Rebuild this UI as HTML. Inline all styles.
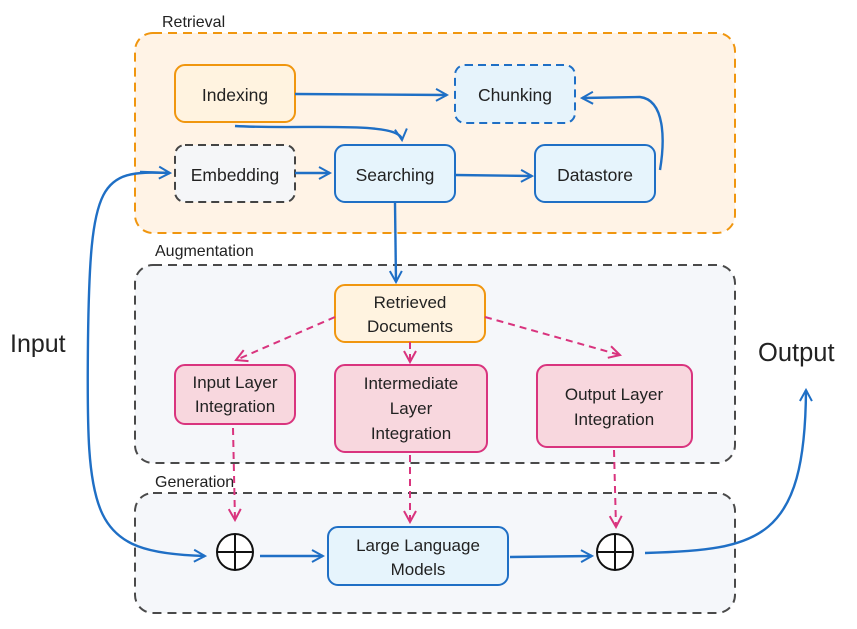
<!DOCTYPE html>
<html><head><meta charset="utf-8"><style>
body{margin:0;background:#fff}
svg text{font-family:"Liberation Sans",sans-serif;fill:#222}
</style></head><body>
<svg width="857" height="624" viewBox="0 0 857 624" xmlns="http://www.w3.org/2000/svg">
<defs>
<marker id="ab" markerWidth="14" markerHeight="14" refX="12" refY="7" orient="auto" markerUnits="userSpaceOnUse"><path d="M1,1 L12,7 L1,13" fill="none" stroke="#1f6fc5" stroke-width="2"/></marker>
<marker id="ap" markerWidth="14" markerHeight="14" refX="12" refY="7" orient="auto" markerUnits="userSpaceOnUse"><path d="M1,1 L12,7 L1,13" fill="none" stroke="#d9347e" stroke-width="2"/></marker>
</defs>
<rect x="135" y="33" width="600" height="200" rx="18" fill="#fff3e6" stroke="#f0960f" stroke-width="2" stroke-dasharray="9,6"/>
<text x="162" y="27" font-size="16">Retrieval</text>
<rect x="135" y="265" width="600" height="198" rx="18" fill="#f5f7fa" stroke="#4a4a4a" stroke-width="2" stroke-dasharray="9,6"/>
<text x="155" y="256" font-size="16">Augmentation</text>
<rect x="135" y="493" width="600" height="120" rx="18" fill="#f5f7fa" stroke="#4a4a4a" stroke-width="2" stroke-dasharray="9,6"/>
<text x="155" y="487" font-size="16">Generation</text>
<rect x="175" y="65" width="120" height="57" rx="10" fill="#fff3e0" stroke="#f0960f" stroke-width="2"/>
<text x="235" y="101" font-size="17.5" text-anchor="middle">Indexing</text>
<rect x="455" y="65" width="120" height="58" rx="10" fill="#e6f3fb" stroke="#1f6fc5" stroke-width="2" stroke-dasharray="8,5"/>
<text x="515" y="101" font-size="17.5" text-anchor="middle">Chunking</text>
<rect x="175" y="145" width="120" height="57" rx="10" fill="#f5f6f8" stroke="#444" stroke-width="2" stroke-dasharray="8,5"/>
<text x="235" y="181" font-size="17.5" text-anchor="middle">Embedding</text>
<rect x="335" y="145" width="120" height="57" rx="10" fill="#e6f4fc" stroke="#1f6fc5" stroke-width="2"/>
<text x="395" y="181" font-size="17.5" text-anchor="middle">Searching</text>
<rect x="535" y="145" width="120" height="57" rx="10" fill="#e6f4fc" stroke="#1f6fc5" stroke-width="2"/>
<text x="595" y="181" font-size="17.5" text-anchor="middle">Datastore</text>
<g stroke="#1f6fc5" stroke-width="2.4" fill="none">
<path d="M295,94 L447,95" marker-end="url(#ab)"/>
<path d="M235,126 C300,130 400,120 402,140" marker-end="url(#ab)"/>
<path d="M295,173 L330,173" marker-end="url(#ab)"/>
<path d="M455,175 L532,176" marker-end="url(#ab)"/>
<path d="M660,170 C665,140 665,100 640,97 L582,98" marker-end="url(#ab)"/>
<path d="M395,203 L396,282" marker-end="url(#ab)"/>
</g>
<rect x="335" y="285" width="150" height="57" rx="10" fill="#fff3e0" stroke="#f0960f" stroke-width="2"/>
<text x="410" y="308" font-size="17" text-anchor="middle">Retrieved</text>
<text x="410" y="332" font-size="17" text-anchor="middle">Documents</text>
<rect x="175" y="365" width="120" height="59" rx="10" fill="#f8d7de" stroke="#d9347e" stroke-width="2"/>
<text x="235" y="388" font-size="17" text-anchor="middle">Input Layer</text>
<text x="235" y="412" font-size="17" text-anchor="middle">Integration</text>
<rect x="335" y="365" width="152" height="87" rx="10" fill="#f8d7de" stroke="#d9347e" stroke-width="2"/>
<text x="411" y="389" font-size="17" text-anchor="middle">Intermediate</text>
<text x="411" y="414" font-size="17" text-anchor="middle">Layer</text>
<text x="411" y="439" font-size="17" text-anchor="middle">Integration</text>
<rect x="537" y="365" width="155" height="82" rx="10" fill="#f8d7de" stroke="#d9347e" stroke-width="2"/>
<text x="614" y="400" font-size="17" text-anchor="middle">Output Layer</text>
<text x="614" y="425" font-size="17" text-anchor="middle">Integration</text>
<g stroke="#d9347e" stroke-width="2" fill="none" stroke-dasharray="7,5">
<path d="M335,317 L236,360" marker-end="url(#ap)"/>
<path d="M410,342 L410,362" marker-end="url(#ap)"/>
<path d="M485,317 L620,355" marker-end="url(#ap)"/>
<path d="M233,428 L235,520" marker-end="url(#ap)"/>
<path d="M410,455 L410,522" marker-end="url(#ap)"/>
<path d="M614,450 L616,527" marker-end="url(#ap)"/>
</g>
<circle cx="235" cy="552" r="18" fill="#fff" stroke="#111" stroke-width="2"/>
<path d="M217,552 H253 M235,534 V570" stroke="#111" stroke-width="2"/>
<circle cx="615" cy="552" r="18" fill="#fff" stroke="#111" stroke-width="2"/>
<path d="M597,552 H633 M615,534 V570" stroke="#111" stroke-width="2"/>
<rect x="328" y="527" width="180" height="58" rx="10" fill="#e6f4fc" stroke="#1f6fc5" stroke-width="2"/>
<text x="418" y="551" font-size="17" text-anchor="middle">Large Language</text>
<text x="418" y="575" font-size="17" text-anchor="middle">Models</text>
<g stroke="#1f6fc5" stroke-width="2.4" fill="none">
<path d="M260,556 L323,556" marker-end="url(#ab)"/>
<path d="M510,557 L592,556" marker-end="url(#ab)"/>
<path d="M645,553 C760,550 805,540 806,390" marker-end="url(#ab)"/>
<path d="M168,173 C100,170 90,180 88,340 C86,520 90,553 205,556" marker-end="url(#ab)"/>
<path d="M140,172 L170,173" marker-end="url(#ab)"/>
</g>
<text x="10" y="352" font-size="25">Input</text>
<text x="758" y="361" font-size="25.5">Output</text>
</svg>
</body></html>
